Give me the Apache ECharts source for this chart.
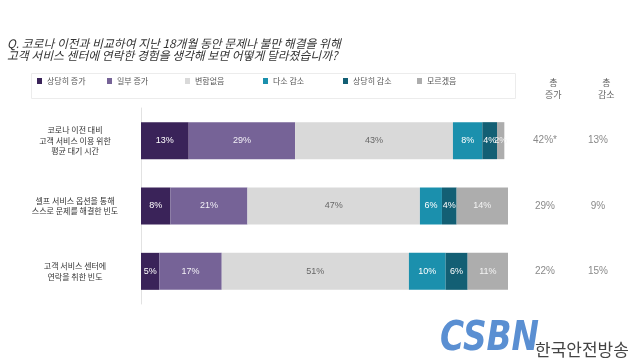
<!DOCTYPE html>
<html>
<head>
<meta charset="utf-8">
<script src="https://cdn.jsdelivr.net/npm/echarts@6/dist/echarts.min.js"></script>
<style>
html,body{margin:0;padding:0;background:#fff;}
#c{width:640px;height:360px;}
</style>
</head>
<body>
<div id="c"></div>
<script>
var categories = ['코로나 이전 대비\n고객 서비스 이용 위한\n평균 대기 시간', '셀프 서비스 옵션을 통해\n스스로 문제를 해결한 빈도', '고객 서비스 센터에\n연락을 취한 빈도'];
var seriesNames = ['상당히 증가', '일부 증가', '변함없음', '다소 감소', '상당히 감소', '모르겠음'];
var muchIncrease = [13, 8, 5];
var someIncrease = [29, 21, 17];
var noChange = [43, 47, 51];
var someDecrease = [8, 6, 10];
var muchDecrease = [4, 4, 6];
var dontKnow = [2, 14, 11];
var totalIncrease = ['42%*', '29%', '22%'];
var totalDecrease = ['13%', '9%', '15%'];

var values = [muchIncrease, someIncrease, noChange, someDecrease, muchDecrease, dontKnow];
var colors = ['#3a2359', '#766397', '#d9d9d9', '#1b90ad', '#135f74', '#adadad'];
var labelColors = ['#ffffff', '#f2f0f6', '#666666', '#ffffff', '#ffffff', '#f4f4f4'];
var legendLeft = [37, 107, 185, 263, 343, 417];

var font = '"Noto Sans CJK KR", "Noto Sans", sans-serif';

var series = values.map(function (arr, i) {
  return {
    name: seriesNames[i],
    type: 'bar',
    stack: 'total',
    barWidth: 37,
    itemStyle: { color: colors[i] },
    label: {
      show: true,
      position: 'inside',
      formatter: '{c}%',
      color: labelColors[i],
      fontSize: 9,
      fontFamily: 'Liberation Sans, sans-serif'
    },
    emphasis: { disabled: true },
    data: arr
  };
});

var legends = seriesNames.map(function (n, i) {
  return {
    data: [n],
    left: legendLeft[i],
    top: 77,
    padding: 0,
    icon: 'rect',
    itemWidth: 5,
    itemHeight: 6,
    selectedMode: false,
    textStyle: { fontSize: 8, color: '#555', fontFamily: font }
  };
});

var chart = echarts.init(document.getElementById('c'));
chart.setOption({
  backgroundColor: '#ffffff',
  animation: false,
  color: colors,
  grid: { left: 141, right: 132, top: 108, bottom: 56, containLabel: false },
  legend: legends,
  xAxis: { type: 'value', min: 0, max: 100, show: false },
  yAxis: [
    {
      type: 'category',
      data: categories,
      inverse: true,
      axisLine: { show: true, lineStyle: { color: '#e2e2e2', width: 1 } },
      axisTick: { show: false },
      axisLabel: {
        align: 'center',
        margin: 66,
        fontSize: 8,
        lineHeight: 10.5,
        color: '#333',
        fontFamily: font
      }
    },
    {
      type: 'category',
      data: totalIncrease,
      inverse: true,
      position: 'right',
      axisLine: { show: false },
      axisTick: { show: false },
      axisLabel: { align: 'center', margin: 37, fontSize: 10, color: '#8a8a8a', fontFamily: 'Liberation Sans, sans-serif' }
    },
    {
      type: 'category',
      data: totalDecrease,
      inverse: true,
      position: 'right',
      axisLine: { show: false },
      axisTick: { show: false },
      axisLabel: { align: 'center', margin: 90, fontSize: 10, color: '#8a8a8a', fontFamily: 'Liberation Sans, sans-serif' }
    }
  ],
  series: series,
  graphic: [
    {
      type: 'text', left: 7, top: 37,
      style: {
        text: 'Q. 코로나 이전과 비교하여 지난 18개월 동안 문제나 불만 해결을 위해\n고객 서비스 센터에 연락한 경험을 생각해 보면 어떻게 달라졌습니까?',
        fontSize: 11.8, lineHeight: 12.5, fontStyle: 'italic', fill: '#333', fontFamily: font
      }
    },
    {
      type: 'rect', left: 29, top: 71, z: -1,
      shape: { width: 484, height: 25 },
      style: { fill: 'none', stroke: '#ececec', lineWidth: 1 }
    },
    {
      type: 'text', left: 545, top: 77,
      style: { text: '총\n증가', textAlign: 'center', fontSize: 9, lineHeight: 12, fill: '#666', fontFamily: font }
    },
    {
      type: 'text', left: 598, top: 77,
      style: { text: '총\n감소', textAlign: 'center', fontSize: 9, lineHeight: 12, fill: '#666', fontFamily: font }
    },
    {
      type: 'text', x: 440, y: 320, scaleX: 0.82,
      style: { text: 'CSBN', fontSize: 40, fontWeight: 'bold', fontStyle: 'italic', fill: '#5a8fd2', fontFamily: 'DejaVu Sans, sans-serif' }
    },
    {
      type: 'text', left: 535, top: 341,
      style: { text: '한국안전방송', fontSize: 17, fill: '#444', fontFamily: font }
    }
  ]
});
</script>
</body>
</html>
